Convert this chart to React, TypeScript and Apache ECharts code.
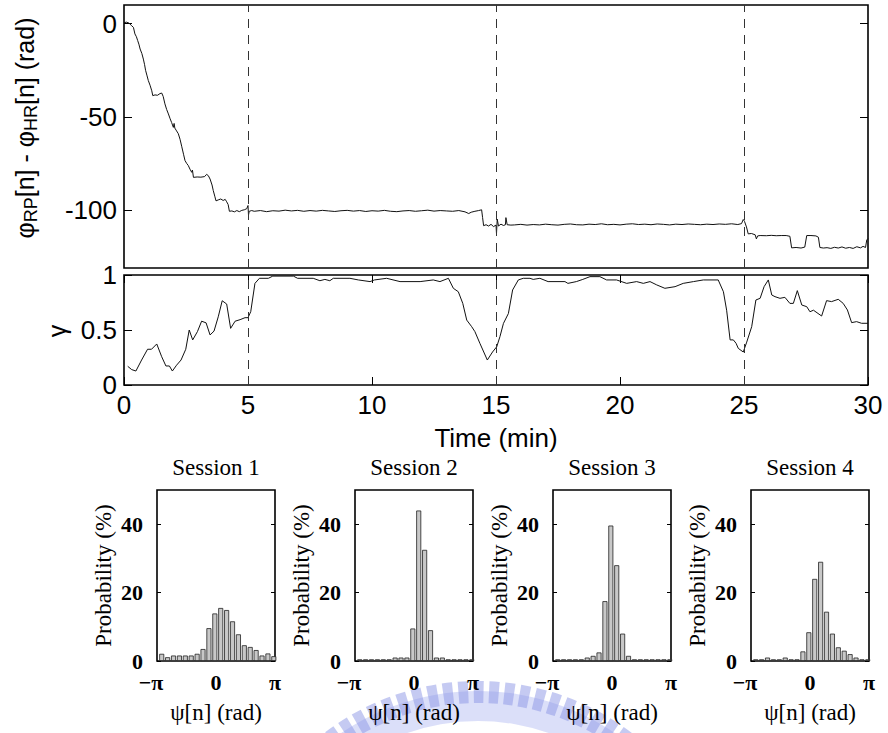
import React, { useEffect, useRef } from "react";
import * as echarts from "echarts";

// ---------- data ----------
const phasePoints: [number, number][] = [
  [0, 0.5], [0.1, 0.8], [0.2, 0.3], [0.3, -1], [0.38, -2], [0.44, -5.5], [0.5, -7], [0.55, -9], [0.6, -11],
  [0.65, -13.6], [0.72, -16], [0.78, -19], [0.83, -22], [0.87, -25], [0.93, -28], [0.98, -30.5], [1.05, -33],
  [1.12, -36], [1.16, -38.6], [1.25, -38.2], [1.35, -38.4], [1.45, -37.5], [1.52, -37.2], [1.58, -39],
  [1.65, -43], [1.72, -46], [1.79, -48.4], [1.86, -51], [1.92, -53], [1.99, -55.6], [2.02, -53.5], [2.05, -56],
  [2.12, -57.5], [2.19, -59], [2.26, -62], [2.33, -66], [2.4, -70], [2.46, -73.4], [2.53, -75], [2.59, -76],
  [2.66, -78], [2.73, -79.7], [2.76, -78.5], [2.8, -82.4], [2.95, -82.2], [3.1, -82.3], [3.25, -82],
  [3.33, -80.8], [3.4, -81.5], [3.47, -83.3], [3.55, -86.5], [3.6, -89.5], [3.66, -92.5], [3.71, -95],
  [3.8, -94.5], [3.9, -94], [4.0, -94.8], [4.08, -94.2], [4.14, -95.5], [4.2, -97], [4.25, -100.6],
  [4.35, -100.4], [4.45, -100.9], [4.55, -100.2], [4.65, -100.8], [4.75, -100.1], [4.85, -99.8], [4.95, -99.2],
  [5.0, -97.5], [5.02, -102.6], [5.05, -100.6], [5.15, -100.2], [5.25, -100.6], [5.5, -100.2], [5.75, -100.8],
  [6, -100.3], [6.25, -100.5], [6.5, -100.0], [6.75, -100.4], [7, -100.1], [7.25, -100.6], [7.5, -100.2],
  [7.75, -100.5], [8, -100.1], [8.25, -100.4], [8.5, -100.7], [8.75, -100.3], [9, -100.1], [9.25, -100.5],
  [9.5, -100.2], [9.75, -100.7], [10, -100.3], [10.25, -100.5], [10.5, -100.1], [10.75, -100.6], [11, -100.8],
  [11.25, -100.4], [11.5, -100.2], [11.75, -100.6], [12, -100.3], [12.25, -100.0], [12.5, -100.5],
  [12.75, -100.2], [13, -100.4], [13.25, -100.6], [13.5, -100.2], [13.75, -100.9], [13.9, -101.8], [14, -101.1],
  [14.15, -100.6], [14.3, -100.2], [14.42, -99.8], [14.46, -104], [14.5, -108.3], [14.6, -107.8], [14.7, -108.5],
  [14.8, -107.6], [14.9, -108.8], [15, -108], [15.02, -112.6], [15.05, -104.8], [15.1, -108.5], [15.2, -107.5],
  [15.3, -108.2], [15.38, -107.8], [15.4, -104], [15.45, -107.8], [15.6, -108], [15.75, -107.9], [16, -107.6],
  [16.25, -108.0], [16.5, -107.7], [16.75, -107.9], [17, -107.5], [17.25, -107.8], [17.5, -108.0], [17.75, -107.6],
  [18, -107.4], [18.25, -107.8], [18.5, -107.9], [18.75, -107.5], [19, -107.7], [19.25, -107.3], [19.5, -107.8],
  [19.75, -107.6], [20, -107.9], [20.25, -107.5], [20.5, -107.3], [20.75, -107.7], [21, -107.5], [21.25, -107.8],
  [21.5, -107.4], [21.75, -107.6], [22, -107.9], [22.25, -107.5], [22.5, -107.7], [22.75, -107.4], [23, -107.6],
  [23.25, -107.8], [23.5, -107.5], [23.75, -107.7], [24, -107.4], [24.25, -107.6], [24.5, -107.3], [24.75, -107.7],
  [24.9, -107.2], [24.97, -105], [25.02, -106], [25.1, -109], [25.17, -112.7], [25.3, -112.5], [25.45, -113.2],
  [25.5, -115.4], [25.55, -113.8], [25.65, -113.6], [25.9, -113.7], [26.1, -113.5], [26.3, -113.7], [26.5, -113.6],
  [26.7, -113.6], [26.85, -114], [26.92, -120.2], [27.1, -120.0], [27.3, -120.3], [27.45, -119.8], [27.53, -113.6],
  [27.7, -113.6], [27.9, -113.8], [28.0, -114.5], [28.06, -120], [28.2, -120.3], [28.35, -120.1], [28.5, -120.5],
  [28.65, -119.9], [28.8, -120.3], [28.95, -119.7], [29.1, -120.4], [29.25, -120.0], [29.4, -120.5], [29.55, -119.6],
  [29.7, -120.2], [29.8, -119.4], [29.9, -120.0], [29.95, -116], [30, -115.2],
];

const gammaPoints: [number, number][] = [
  [0.15, 0.17], [0.31, 0.14], [0.48, 0.127], [0.71, 0.227], [0.95, 0.325], [1.11, 0.325], [1.32, 0.373],
  [1.52, 0.257], [1.69, 0.173], [1.83, 0.173], [1.95, 0.127], [2.12, 0.18], [2.3, 0.227], [2.49, 0.325],
  [2.63, 0.5], [2.77, 0.41], [2.96, 0.485], [3.13, 0.58], [3.31, 0.565], [3.47, 0.455], [3.63, 0.49],
  [3.8, 0.62], [3.96, 0.766], [4.14, 0.736], [4.3, 0.515], [4.48, 0.58], [4.68, 0.594], [4.88, 0.612],
  [5.0, 0.612], [5.11, 0.666], [5.28, 0.924], [5.46, 0.97], [5.82, 0.97], [6.0, 0.99], [6.83, 0.99], [7.0, 0.97],
  [7.63, 0.97], [7.9, 0.948], [8.1, 0.96], [8.3, 0.948], [8.44, 0.97], [9.11, 0.97], [9.45, 0.955], [9.92, 0.94],
  [10.1, 0.955], [10.59, 0.97], [11.13, 0.94], [11.94, 0.94], [12.47, 0.955], [12.74, 0.94], [13.08, 0.97],
  [13.28, 0.879], [13.48, 0.848], [13.66, 0.742], [13.82, 0.59], [14.02, 0.53], [14.15, 0.485], [14.35, 0.379],
  [14.65, 0.227], [14.86, 0.3], [15.03, 0.348], [15.16, 0.44], [15.3, 0.56], [15.5, 0.65], [15.67, 0.864],
  [15.9, 0.955], [16.1, 0.97], [16.37, 0.97], [16.5, 0.96], [16.77, 0.97], [17.1, 0.94], [17.78, 0.94],
  [17.9, 0.924], [18.24, 0.94], [18.5, 0.96], [18.79, 0.985], [19.19, 0.985], [19.46, 0.955], [19.86, 0.955],
  [20.27, 0.924], [20.67, 0.94], [20.94, 0.924], [21.21, 0.94], [21.48, 0.91], [21.81, 0.879], [22.22, 0.894],
  [22.55, 0.924], [22.96, 0.94], [23.36, 0.955], [23.96, 0.955], [24.17, 0.848], [24.3, 0.68], [24.44, 0.41],
  [24.57, 0.41], [24.68, 0.379], [24.77, 0.333], [24.97, 0.3], [25.11, 0.39], [25.31, 0.53], [25.48, 0.773],
  [25.65, 0.788], [25.81, 0.894], [25.98, 0.955], [26.12, 0.818], [26.25, 0.803], [26.45, 0.788], [26.65, 0.797],
  [26.85, 0.742], [26.99, 0.742], [27.15, 0.858], [27.33, 0.727], [27.53, 0.712], [27.66, 0.666], [27.8, 0.68],
  [28.13, 0.627], [28.33, 0.767], [28.53, 0.758], [28.8, 0.779], [29.0, 0.742], [29.17, 0.682], [29.34, 0.567],
  [29.54, 0.576], [29.74, 0.561], [30.0, 0.561],
];

const sessionMarkers = [5, 15, 25];
const phaseTicks = [0, -50, -100];
const gammaTicks = [0, 0.5, 1];
const probTicks = [0, 20, 40];

const sessionTitles = ["Session 1", "Session 2", "Session 3", "Session 4"];
const hist1 = [2.1, 1.1, 1.6, 1.6, 1.6, 1.6, 2.1, 3.5, 9.6, 13.9, 15.5, 14.9, 11.6, 7.8, 4.6, 4.1, 3.2, 1.6, 2.2, 1.4];
const hist2 = [0.5, 0.5, 0.5, 0.5, 0.5, 0.5, 1, 1, 1, 9.5, 44, 32.5, 9, 1, 1, 0.5, 0.5, 0.5, 0.5, 0.5];
const hist3 = [0.5, 0.5, 0.5, 0.5, 0.5, 1, 1.5, 2.5, 17.5, 39.6, 28, 8, 1.5, 0.5, 0.5, 0.5, 0.5, 0.5, 0.5, 0.5];
const hist4 = [0.5, 0.5, 1, 0.5, 0.5, 1, 0.5, 0.5, 2.8, 8.4, 24, 29, 14.4, 8, 4, 3, 2, 1, 0.5, 0.5];
const histograms = [hist1, hist2, hist3, hist4];

// ---------- layout ----------
const SANS = "'Liberation Sans', Arial, sans-serif";
const SERIF = "'Liberation Serif', 'Times New Roman', serif";
const HIST_LEFT = [157, 355, 553, 751];
const HIST_TOP = 490;
const HIST_W = 118;
const HIST_H = 171;

function buildOption() {
  const frame = { show: true, borderColor: "#000", borderWidth: 1.6, backgroundColor: "transparent" };
  const grids: any[] = [
    { left: 124, top: 5, width: 744, height: 263, ...frame },
    { left: 124, top: 275, width: 744, height: 110, ...frame },
  ];
  HIST_LEFT.forEach((l) => grids.push({ left: l, top: HIST_TOP, width: HIST_W, height: HIST_H, ...frame }));

  const noLine = { show: false, onZero: false };
  const tickIn = (len: number, custom?: number[]) => ({
    show: true,
    inside: true,
    length: len,
    lineStyle: { color: "#000", width: 1 },
    ...(custom ? { customValues: custom } : {}),
  });

  const xAxes: any[] = [
    {
      gridIndex: 0, type: "value", min: 0, max: 30, interval: 5,
      axisLine: noLine, axisTick: { show: false }, axisLabel: { show: false }, splitLine: { show: false },
    },
    {
      gridIndex: 1, type: "value", position: "bottom", min: 0, max: 30, interval: 5,
      axisLine: noLine, axisTick: tickIn(8), splitLine: { show: false },
      axisLabel: { fontSize: 26, fontFamily: SANS, color: "#000", margin: 7 },
    },
    {
      gridIndex: 1, type: "value", position: "top", min: 0, max: 30, interval: 5,
      axisLine: noLine, axisTick: tickIn(8), axisLabel: { show: false }, splitLine: { show: false },
    },
  ];
  const yAxes: any[] = [
    {
      gridIndex: 0, type: "value", position: "left", min: -131, max: 10,
      axisLine: noLine, axisTick: tickIn(8, phaseTicks), splitLine: { show: false },
      axisLabel: { customValues: phaseTicks, fontSize: 26, fontFamily: SANS, color: "#000", margin: 7 },
    },
    {
      gridIndex: 0, type: "value", position: "right", min: -131, max: 10,
      axisLine: noLine, axisTick: tickIn(8, phaseTicks), axisLabel: { show: false }, splitLine: { show: false },
    },
    {
      gridIndex: 1, type: "value", position: "left", min: 0, max: 1,
      axisLine: noLine, axisTick: tickIn(8, gammaTicks), splitLine: { show: false },
      axisLabel: { customValues: gammaTicks, fontSize: 26, fontFamily: SANS, color: "#000", margin: 7 },
    },
    {
      gridIndex: 1, type: "value", position: "right", min: 0, max: 1,
      axisLine: noLine, axisTick: tickIn(8, gammaTicks), axisLabel: { show: false }, splitLine: { show: false },
    },
  ];

  const piTicks = [-Math.PI, 0, Math.PI];
  HIST_LEFT.forEach((_, i) => {
    xAxes.push({
      gridIndex: 2 + i, type: "value", position: "bottom", min: -Math.PI, max: Math.PI,
      axisLine: noLine, axisTick: { show: false }, splitLine: { show: false },
      axisLabel: {
        customValues: piTicks, showMinLabel: true, showMaxLabel: true,
        fontSize: 22, fontWeight: "bold", fontFamily: SERIF, color: "#000", margin: 10,
        formatter: (v: number) => (v < -1 ? "{l|\u2212\u03c0}" : v > 1 ? "\u03c0" : "0"),
        rich: { l: { fontSize: 22, fontWeight: "bold", fontFamily: SERIF, color: "#000", padding: [0, 12, 0, 0] } },
      },
    });
  });
  HIST_LEFT.forEach((_, i) => {
    yAxes.push({
      gridIndex: 2 + i, type: "value", position: "left", min: 0, max: 50,
      axisLine: noLine, axisTick: tickIn(4, probTicks), splitLine: { show: false },
      axisLabel: { customValues: probTicks, fontSize: 22, fontWeight: "bold", fontFamily: SERIF, color: "#000", margin: 14 },
    });
  });
  HIST_LEFT.forEach((_, i) => {
    yAxes.push({
      gridIndex: 2 + i, type: "value", position: "right", min: 0, max: 50,
      axisLine: noLine, axisTick: tickIn(4, probTicks), axisLabel: { show: false }, splitLine: { show: false },
    });
  });

  const markLine = {
    silent: true,
    symbol: ["none", "none"],
    label: { show: false },
    lineStyle: { type: [9, 7], color: "#333", width: 1 },
    data: sessionMarkers.map((x) => ({ xAxis: x })),
  };

  const series: any[] = [
    {
      type: "line", xAxisIndex: 0, yAxisIndex: 0, data: phasePoints, showSymbol: false,
      lineStyle: { color: "#111", width: 1 }, markLine, z: 3,
    },
    {
      type: "line", xAxisIndex: 1, yAxisIndex: 2, data: gammaPoints, showSymbol: false,
      lineStyle: { color: "#111", width: 1 }, markLine, z: 3,
    },
  ];
  const binW = (2 * Math.PI) / 20;
  histograms.forEach((h, i) => {
    series.push({
      type: "bar", xAxisIndex: 3 + i, yAxisIndex: 4 + i,
      data: h.map((v, k) => [-Math.PI + (k + 0.8) * binW, v]),
      barWidth: 5,
      itemStyle: { color: "#c8c8c8", borderColor: "#222", borderWidth: 0.8 },
    });
  });

  // watermark-like faint logo arc
  const cx = 478, cy = 935;
  const wm: any[] = [
    {
      type: "sector", z: -10,
      shape: { cx, cy, r0: 214, r: 244, startAngle: (-130 * Math.PI) / 180, endAngle: (-50 * Math.PI) / 180, clockwise: true },
      style: { fill: "rgba(175,185,242,0.45)" },
    },
  ];
  for (let a = -127; a <= -53; a += 3.6) {
    wm.push({
      type: "sector", z: -9,
      shape: { cx, cy, r0: 232, r: 254, startAngle: (a * Math.PI) / 180, endAngle: ((a + 2.3) * Math.PI) / 180, clockwise: true },
      style: { fill: "rgba(140,150,230,0.5)" },
    });
  }

  const texts: any[] = [
    {
      type: "text", x: 25, y: 128, rotation: Math.PI / 2, z: 10,
      style: {
        text: "{n|\u03c6}{s|RP}{n|[n] - \u03c6}{s|HR}{n|[n] (rad)}",
        align: "center", verticalAlign: "middle", fill: "#000",
        rich: {
          n: { fontSize: 25, fontFamily: SANS, lineHeight: 30, verticalAlign: "middle", fill: "#000" },
          s: { fontSize: 18, fontFamily: SANS, lineHeight: 12, verticalAlign: "bottom", fill: "#000" },
        },
      },
    },
    {
      type: "text", x: 57, y: 331, rotation: Math.PI / 2, z: 10,
      style: { text: "\u03b3", font: `25px ${SANS}`, align: "center", verticalAlign: "middle", fill: "#000" },
    },
    {
      type: "text", x: 496, y: 438, z: 10,
      style: { text: "Time (min)", font: `26px ${SANS}`, align: "center", verticalAlign: "middle", fill: "#000" },
    },
  ];
  HIST_LEFT.forEach((l, i) => {
    texts.push({
      type: "text", x: l + HIST_W / 2, y: 467, z: 10,
      style: { text: sessionTitles[i], font: `23px ${SERIF}`, align: "center", verticalAlign: "middle", fill: "#000" },
    });
    texts.push({
      type: "text", x: l - 54, y: HIST_TOP + HIST_H / 2, rotation: Math.PI / 2, z: 10,
      style: { text: "Probability (%)", font: `23px ${SERIF}`, align: "center", verticalAlign: "middle", fill: "#000" },
    });
    texts.push({
      type: "text", x: l + HIST_W / 2, y: 712, z: 10,
      style: { text: "\u03c8[n] (rad)", font: `23px ${SERIF}`, align: "center", verticalAlign: "middle", fill: "#000" },
    });
  });

  return {
    animation: false,
    backgroundColor: "#fff",
    grid: grids,
    xAxis: xAxes,
    yAxis: yAxes,
    series,
    graphic: [...wm, ...texts],
  };
}

export default function App() {
  const ref = useRef<HTMLDivElement>(null);
  useEffect(() => {
    if (!ref.current) return;
    const chart = echarts.init(ref.current, undefined, { renderer: "svg" });
    chart.setOption(buildOption() as any);
    return () => chart.dispose();
  }, []);
  return (
    <div
      ref={ref}
      style={{ position: "fixed", left: 0, top: 0, width: 888, height: 733, background: "#fff" }}
    />
  );
}
